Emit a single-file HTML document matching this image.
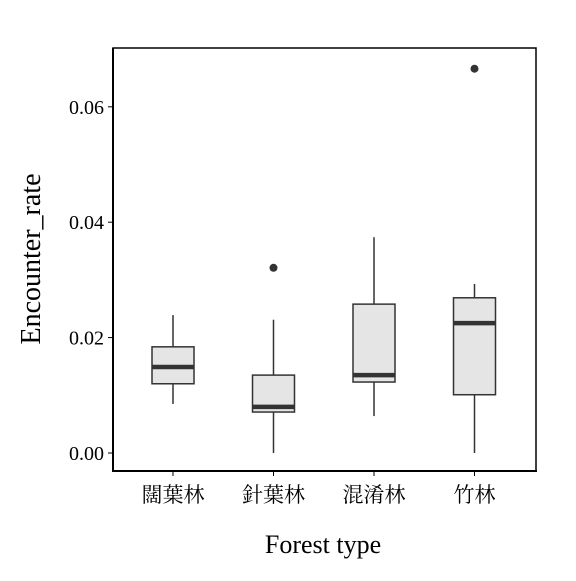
<!DOCTYPE html>
<html><head><meta charset="utf-8"><style>
html,body{margin:0;padding:0;background:#fff;}
svg text{font-family:"Liberation Serif","Noto Serif CJK SC",serif;fill:#000;}
</style></head><body>
<svg id="chart" width="576" height="576" xmlns="http://www.w3.org/2000/svg">
<rect x="113" y="48" width="423" height="423" fill="none" stroke="#000" stroke-width="1.5"/>
<line x1="113" y1="48" x2="113" y2="472" stroke="#000" stroke-width="2"/>
<line x1="112" y1="471" x2="537" y2="471" stroke="#000" stroke-width="2"/>
<g id="yaxis"></g>
<g id="xaxis"></g>
<g id="boxes"></g>
<text x="323" y="553" font-size="26" text-anchor="middle">Forest type</text>
<text transform="translate(40,259) rotate(-90)" font-size="28" text-anchor="middle">Encounter_rate</text>
</svg>
<script>
const categories=["闊葉林","針葉林","混淆林","竹林"];
const whiskerLow=[0.0085,0.0,0.0064,0.0];
const q1=[0.0120,0.0071,0.0123,0.0101];
const medians=[0.0149,0.0080,0.0135,0.0225];
const q3=[0.0184,0.0135,0.0258,0.0269];
const whiskerHigh=[0.0239,0.0231,0.0374,0.0293];
const outliers=[[],[0.0321],[],[0.0666]];
const yTicks=[0,0.02,0.04,0.06];
const yTickLabels=["0.00","0.02","0.04","0.06"];
const NS="http://www.w3.org/2000/svg";
const y=v=>453-v*5770;
const x=i=>173+i*100.5;
function mk(tag,attrs,parent){const e=document.createElementNS(NS,tag);for(const k in attrs)e.setAttribute(k,attrs[k]);parent.appendChild(e);return e;}
const ya=document.getElementById('yaxis'),xa=document.getElementById('xaxis'),bx=document.getElementById('boxes');
yTicks.forEach((t,i)=>{
 const l=mk('line',{x1:108,x2:113,y1:y(t),y2:y(t),stroke:'#000','stroke-width':1},ya);
 
 
 const tx=mk('text',{x:104,y:y(t)+7,'font-size':20,'text-anchor':'end'},ya);
 tx.textContent=yTickLabels[i];
 
 
});
categories.forEach((c,i)=>{
 const l=mk('line',{x1:x(i),x2:x(i),y1:471,y2:476,stroke:'#000','stroke-width':1},xa);
 
 
 const tx=mk('text',{x:x(i),y:502,'font-size':21,'text-anchor':'middle'},xa);
 tx.textContent=c;
 
 
 const g=mk('g',{},bx);
 
 
 mk('line',{x1:x(i),x2:x(i),y1:y(whiskerHigh[i]),y2:y(q3[i]),stroke:'#333','stroke-width':1.5},g);
 mk('line',{x1:x(i),x2:x(i),y1:y(q1[i]),y2:y(whiskerLow[i]),stroke:'#333','stroke-width':1.5},g);
 mk('rect',{x:x(i)-21,y:y(q3[i]),width:42,height:y(q1[i])-y(q3[i]),fill:'#e5e5e5',stroke:'#333','stroke-width':1.5},g);
 mk('line',{x1:x(i)-21,x2:x(i)+21,y1:y(medians[i]),y2:y(medians[i]),stroke:'#333','stroke-width':4.5},g);
 outliers[i].forEach(o=>{
  const p=mk('circle',{cx:x(i),cy:y(o),r:4,fill:'#333'},g);
  
  
 });
});
</script>
</body></html>
